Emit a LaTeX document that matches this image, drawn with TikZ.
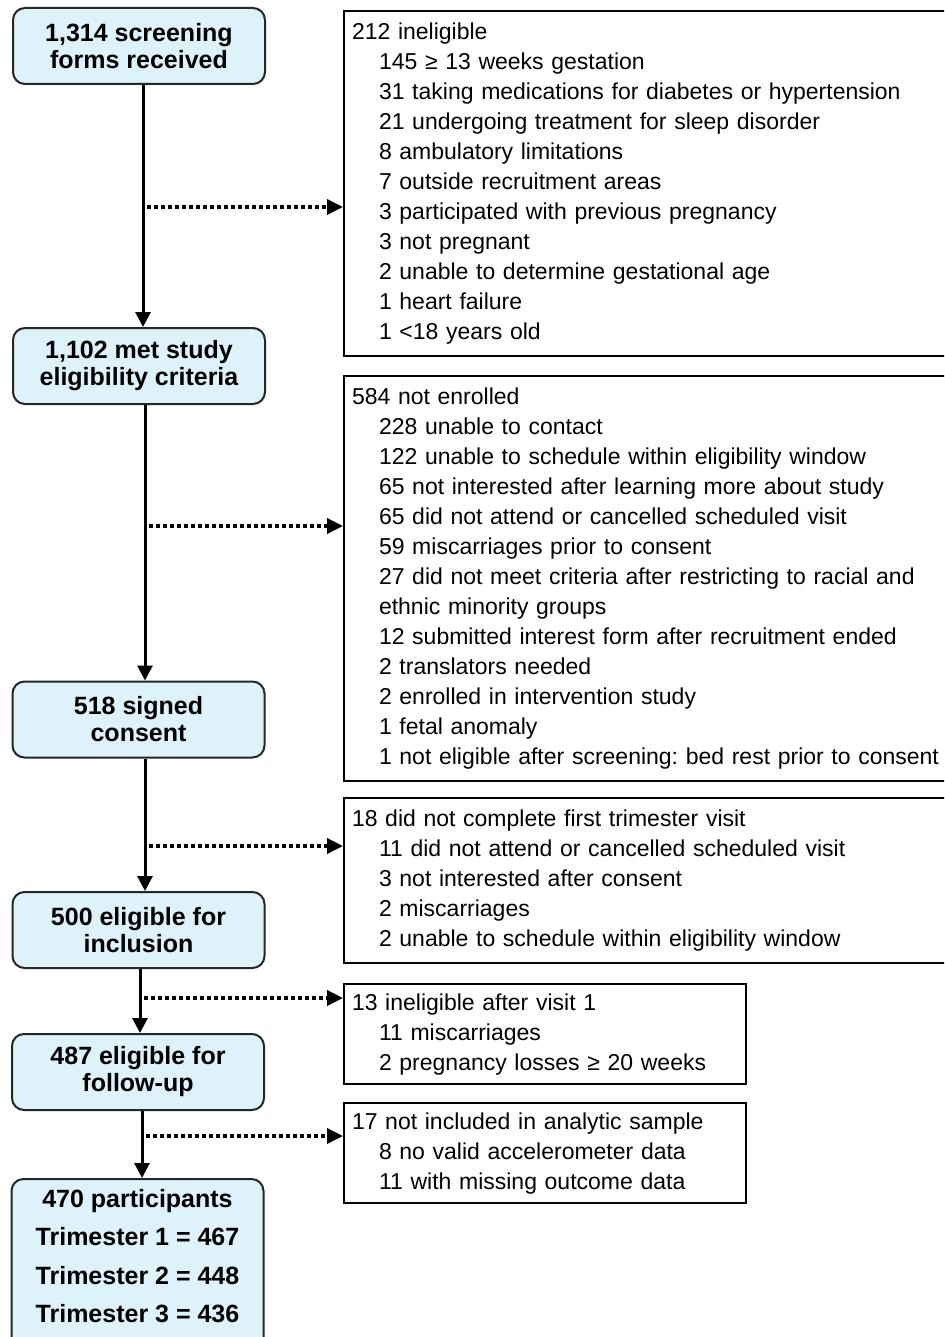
\documentclass[tikz,border=0pt]{standalone}
\usepackage{fontspec}
\setmainfont{Liberation Sans}
\usetikzlibrary{arrows.meta}
\definecolor{stageblue}{RGB}{221,242,251}
\newcommand{\indt}{\hspace*{27pt}}
\frenchspacing

\begin{document}
\begin{tikzpicture}[x=1pt,y=-1pt,
	stage box/.style={draw=black!85,line width=2pt,fill=stageblue,rounded corners=12pt,minimum width=252pt,minimum height=76pt,inner sep=0pt,align=center,font=\fontsize{25}{27}\selectfont\bfseries},
	excl box/.style={draw,line width=2pt,anchor=north west,align=left,text width=620pt,inner xsep=8pt,inner ysep=7.5pt,font=\fontsize{23}{30}\selectfont,execute at begin node=\strut,execute at end node=\strut},
	main arrow/.style={line width=3pt,-{Triangle[length=15pt,width=15pt]}},
	side arrow/.style={line width=3.5pt,dash pattern=on 4pt off 3pt,-{Triangle[length=16pt,width=15pt]}}]
		\useasboundingbox (0,0) rectangle (944,1337); %page size
		\clip (0,0) rectangle (944,1337); %right boxes run off the page
		\node[stage box] (received) at (139,46) {1,314 screening\\forms received}; %first box
		\node[stage box] (eligible) at (139,366) {1,102 met study\\eligibility criteria};
		\node[stage box] (consent) at (138.5,719.5) {518 signed\\consent};
		\node[stage box] (inclusion) at (138.5,930) {500 eligible for\\inclusion};
		\node[stage box] (followup) at (138,1072) {487 eligible for\\follow-up};
		\node[stage box,anchor=north,minimum height=0pt,inner ysep=10pt,font=\fontsize{25}{38.5}\selectfont\bfseries,execute at begin node=\strut] (sample) at (137.5,1178) {470 participants\\Trimester 1 = 467\\Trimester 2 = 448\\Trimester 3 = 436\rule[-20pt]{0pt}{1pt}}; %last box
		\node[excl box] (inelig) at (343,10) {212 ineligible\\
			\indt 145 ≥ 13 weeks gestation\\
			\indt 31 taking medications for diabetes or hypertension\\
			\indt 21 undergoing treatment for sleep disorder\\
			\indt 8 ambulatory limitations\\
			\indt 7 outside recruitment areas\\
			\indt 3 participated with previous pregnancy\\
			\indt 3 not pregnant\\
			\indt 2 unable to determine gestational age\\
			\indt 1 heart failure\\
			\indt 1 <18 years old};
		\node[excl box] (notenrol) at (343,375) {584 not enrolled\\
			\indt 228 unable to contact\\
			\indt 122 unable to schedule within eligibility window\\
			\indt 65 not interested after learning more about study\\
			\indt 65 did not attend or cancelled scheduled visit\\
			\indt 59 miscarriages prior to consent\\
			\indt 27 did not meet criteria after restricting to racial and\\
			\indt ethnic minority groups\\
			\indt 12 submitted interest form after recruitment ended\\
			\indt 2 translators needed\\
			\indt 2 enrolled in intervention study\\
			\indt 1 fetal anomaly\\
			\indt 1 not eligible after screening: bed rest prior to consent};
		\node[excl box] (novisit) at (343,797) {18 did not complete first trimester visit\\
			\indt 11 did not attend or cancelled scheduled visit\\
			\indt 3 not interested after consent\\
			\indt 2 miscarriages\\
			\indt 2 unable to schedule within eligibility window};
		\node[excl box,text width=386pt,inner ysep=5pt] (visitone) at (343,983) {13 ineligible after visit 1\\
			\indt 11 miscarriages\\
			\indt 2 pregnancy losses ≥ 20 weeks};
		\node[excl box,text width=386pt,inner ysep=5pt] (analytic) at (343,1102) {17 not included in analytic sample\\
			\indt 8 no valid accelerometer data\\
			\indt 11 with missing outcome data};
		\draw[main arrow] ([xshift=4pt]received.south) -- ([xshift=4pt]eligible.north); %main flow
		\draw[main arrow] ([xshift=6pt]eligible.south) -- ([xshift=6.5pt]consent.north);
		\draw[main arrow] ([xshift=6.5pt]consent.south) -- ([xshift=6.5pt]inclusion.north);
		\draw[main arrow] ([xshift=1.5pt]inclusion.south) -- ([xshift=2pt]followup.north);
		\draw[main arrow] ([xshift=4pt]followup.south) -- ([xshift=4.5pt]sample.north);
		\coordinate (out1) at (147,207); %start of dotted lines
		\coordinate (out2) at (149,526);
		\coordinate (out3) at (149,846);
		\coordinate (out4) at (144,998);
		\coordinate (out5) at (146,1136);
		\draw[side arrow] (out1) -- (out1 -| inelig.west);
		\draw[side arrow] (out2) -- (out2 -| notenrol.west);
		\draw[side arrow] (out3) -- (out3 -| novisit.west);
		\draw[side arrow] (out4) -- (out4 -| visitone.west);
		\draw[side arrow] (out5) -- (out5 -| analytic.west);
\end{tikzpicture}
\end{document}
